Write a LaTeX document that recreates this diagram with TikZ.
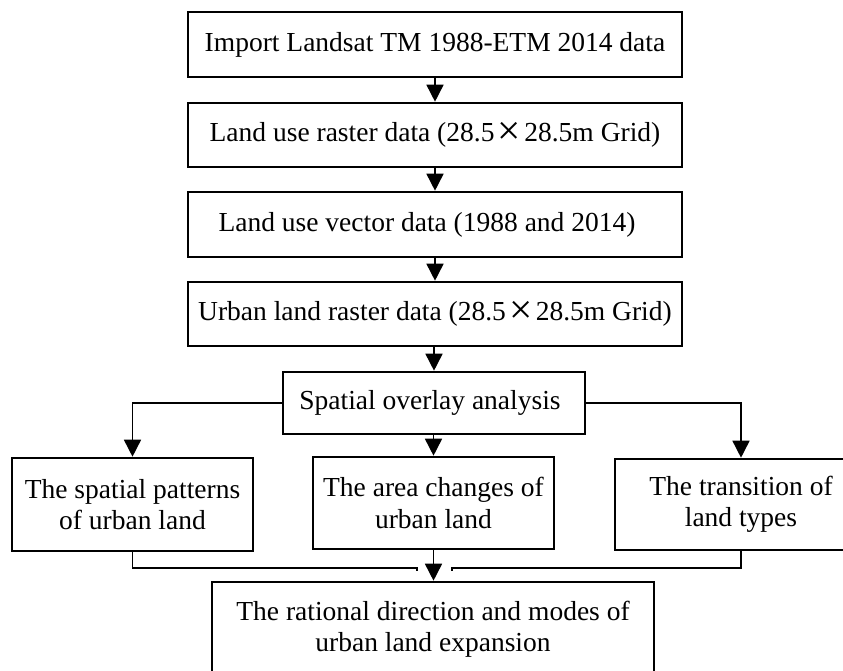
\documentclass[tikz,border=0pt]{standalone}
\usepackage{fontspec}
\usepackage{graphicx}
\setmainfont{Liberation Serif}
\usetikzlibrary{arrows.meta}
\newcommand{\bigtimes}{\hspace{0.12em}\raisebox{-0.12em}{\scalebox{1.5}{×}}\hspace{0.12em}}
\begin{document}
\begin{tikzpicture}[x=1pt,y=-1pt,
  box/.style={draw,line width=2.6pt,inner sep=0pt,align=center,
    font=\fontsize{27.5}{31.5}\selectfont},
  conn/.style={line width=1.6pt},
  arr/.style={conn,-{Triangle[width=17pt,length=17pt]}}]
\clip (0,0) rectangle (843,671);
\fill[white] (0,0) rectangle (843,671);
\node[box,minimum width=494pt,minimum height=65pt] (b1) at (435,44.5)
  {Import Landsat TM 1988-ETM 2014 data};
\node[box,minimum width=494pt,minimum height=64pt] (b2) at (435,135)
  {Land use raster data (28.5\bigtimes 28.5m Grid)};
\node[box,minimum width=494pt,minimum height=65pt] (b3) at (435,224.5)
  {Land use vector data (1988 and 2014)\hspace*{16pt}};
\node[box,minimum width=494pt,minimum height=64pt] (b4) at (435,314)
  {Urban land raster data (28.5\bigtimes 28.5m Grid)};
\node[box,minimum width=302pt,minimum height=62pt] (sp) at (434,403)
  {Spatial overlay analysis\hspace*{8pt}};
\node[box,minimum width=241pt,minimum height=93pt] (l) at (132.5,504.5)
  {The spatial patterns\\of urban land};
\node[box,minimum width=241pt,minimum height=92pt] (m) at (433.5,503)
  {The area changes of\\urban land};
\node[box,minimum width=252pt,minimum height=91pt] (r) at (741,504.5)
  {The transition of\\land types};
\node[box,minimum width=442pt,minimum height=94pt] (e) at (433,629)
  {The rational direction and modes of\\urban land expansion};

\draw[arr] (b1) -- (b2);
\draw[arr] (b2) -- (b3);
\draw[arr] (b3) -- (b4);
\draw[arr] (b4.south -| sp.north) -- (sp.north);
\draw[arr] (sp.west) -| (l.north);
\draw[arr] (sp.east) -| (r.north);
\draw[arr] (sp.south -| m.north) -- (m.north);
\draw[arr] (m.south) -- (e.north -| m.south);
\coordinate (jl) at (417,568);
\coordinate (jr) at (452,568);
\draw[conn] (l.south) |- (jl) -- ++(0,3);
\draw[conn] (r.south) |- (jr) -- ++(0,3);
\end{tikzpicture}
\end{document}
